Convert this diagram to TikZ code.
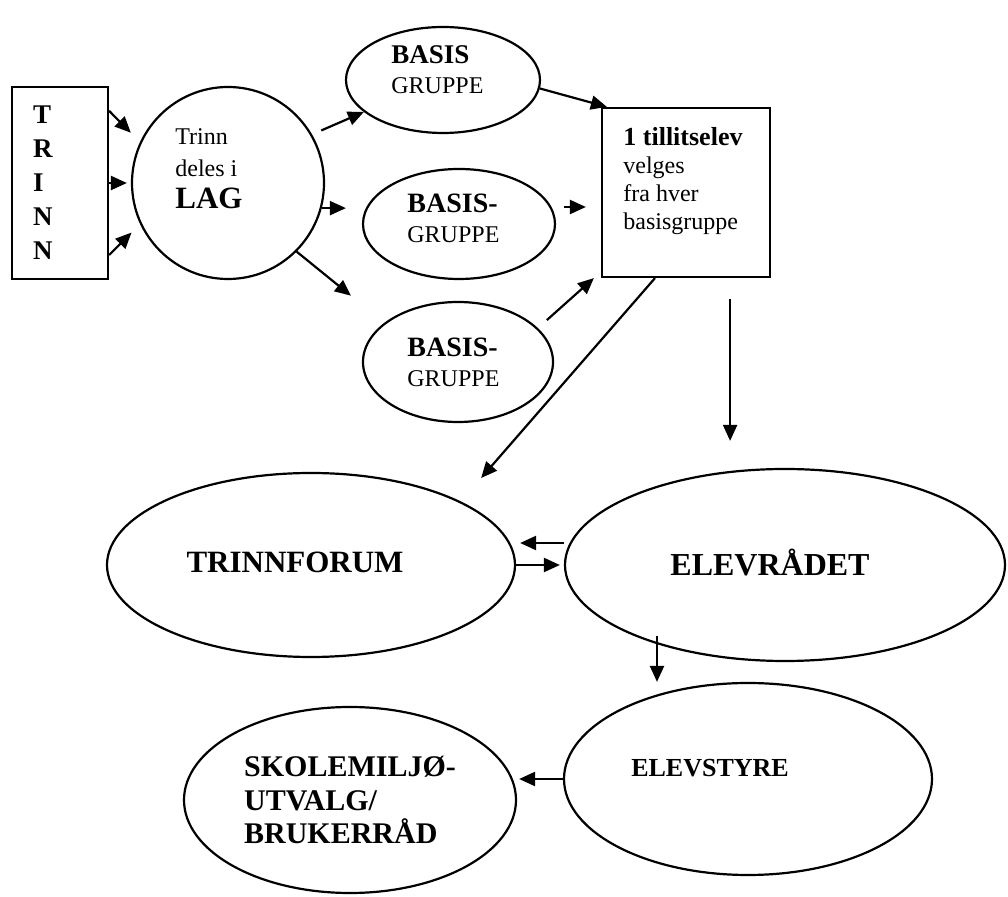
\documentclass[tikz,border=0pt]{standalone}
\usepackage{fontspec}
\setmainfont{Liberation Serif}
\usetikzlibrary{shapes.geometric,arrows.meta,positioning}

\tikzset{
  shapeline/.style={draw, line width=1.1pt},
  oval/.style={shapeline, ellipse, inner sep=0pt},
  arr/.style={line width=1.1pt, -{Triangle[length=8pt,width=7pt]}},
  small/.style={font=\fontsize{12}{15}\selectfont, align=left, inner sep=0pt},
  big/.style={font=\fontsize{15.5}{17}\selectfont\bfseries, align=left, inner sep=0pt},
}

\begin{document}
\begin{tikzpicture}[x=0.5pt, y=-0.5pt]
    \useasboundingbox (0,0) rectangle (1008,897);

    % Trinn and lag
    \node[shapeline, rectangle, minimum width=48pt, minimum height=96pt, text width=27pt,
          inner xsep=10.5pt, align=left, font=\fontsize{13.5}{17}\selectfont\bfseries] (trinn) at (60,183) {T\\R\\I\\N\\N};
    \node[shapeline, circle, minimum size=96pt, inner sep=0pt] (lag) at (228,183) {};
    \node[small, font=\fontsize{12}{16}\selectfont, anchor=north west] (lagtxt) at (175,128)
        {Trinn\\deles i\\{\fontsize{15.5}{16}\selectfont\bfseries LAG}};

    % Basisgrupper
    \node[oval, minimum width=97pt, minimum height=53pt] (basA) at (443,80) {};
    \node[small, anchor=north west] (basAtxt) at (391,45) {{\fontsize{13.5}{15}\selectfont\bfseries BASIS}\\GRUPPE};
    \node[oval, minimum width=96pt, minimum height=55pt] (basB) at (459,224) {};
    \node[small, anchor=north west] (basBtxt) at (407,194) {{\fontsize{14}{15}\selectfont\bfseries BASIS-}\\GRUPPE};
    \node[oval, minimum width=95pt, minimum height=60pt] (basC) at (458,362) {};
    \node[small, anchor=north west] (basCtxt) at (407,338) {{\fontsize{14}{15}\selectfont\bfseries BASIS-}\\GRUPPE};

    % Tillitselev
    \node[shapeline, rectangle, minimum width=84pt, minimum height=84.5pt, inner sep=0pt] (tillit) at (686,192.5) {};
    \node[small, font=\fontsize{12}{14}\selectfont, anchor=north west] (tillittxt) at (623,127)
        {{\fontsize{13}{14}\selectfont\bfseries 1 tillitselev}\\velges\\fra hver\\basisgruppe};

    % Forum, elevraad, styre
    \node[oval, minimum width=204pt, minimum height=92pt] (tf) at (311,565) {};
    \node[big] (tftxt) at (295,562) {TRINNFORUM};
    \node[oval, minimum width=220pt, minimum height=96pt] (er) at (785,565) {};
    \node[big, font=\fontsize{16}{17}\selectfont\bfseries] (ertxt) at (770,562) {ELEVRÅDET};
    \node[oval, minimum width=184pt, minimum height=96pt] (es) at (748,779) {};
    \node[big, font=\fontsize{13}{15}\selectfont\bfseries] (estxt) at (710,768) {ELEVSTYRE};
    \node[oval, big, font=\fontsize{15}{16.75}\selectfont\bfseries, minimum width=166pt, minimum height=93pt] (sk) at (350,800)
        {SKOLEMILJØ-\\UTVALG/\\BRUKERRÅD};

    % Arrows
    \draw[arr, shorten >=6.5pt] ([yshift=-12.5pt]trinn.north east) -- (lag.155);
    \draw[arr, shorten >=2pt] (trinn.east) -- (lag.west);
    \draw[arr, shorten >=6pt] ([yshift=12.5pt]trinn.south east) -- (lag.205);
    \draw[arr, shorten <=5pt] (lag.30) -- (basA.202);
    \draw[arr, shorten >=8pt] (lag.-15) -- (lag.-15 -| basB.west);
    \draw[arr, shorten >=21.5pt] (lag.-45) -- (basC.152);
    \draw[arr] (basA.-5) -- ([xshift=3pt]tillit.north west);
    \draw[arr, shorten <=4pt, shorten >=7.5pt] ([yshift=8.5pt]basB.east) -- ([yshift=8.5pt]basB.east -| tillit.west);
    \draw[arr, shorten <=6pt] (basC.23) -- ([xshift=-3.5pt]tillit.south west);
    \draw[arr, shorten >=15.5pt] ([xshift=-15.5pt]tillit.south) -- (tf.23);
    \draw[arr, shorten <=10.5pt, shorten >=13.5pt] ([xshift=-20.5pt]tillit.south east) -- ([xshift=-20.5pt]tillit.south east |- er.north);
    \draw[arr, shorten >=2pt] ([yshift=11pt]er.west) -- ([yshift=11pt]er.west -| tf.east);
    \draw[arr, shorten >=2pt] (tf.east) -- (er.west);
    \draw[arr] ([xshift=-64pt, yshift=13pt]er.south) -- ([xshift=-64pt]er.south |- es.north);
    \draw[arr, shorten >=1pt] (es.west) -- (es.west -| sk.east);
\end{tikzpicture}
\end{document}
